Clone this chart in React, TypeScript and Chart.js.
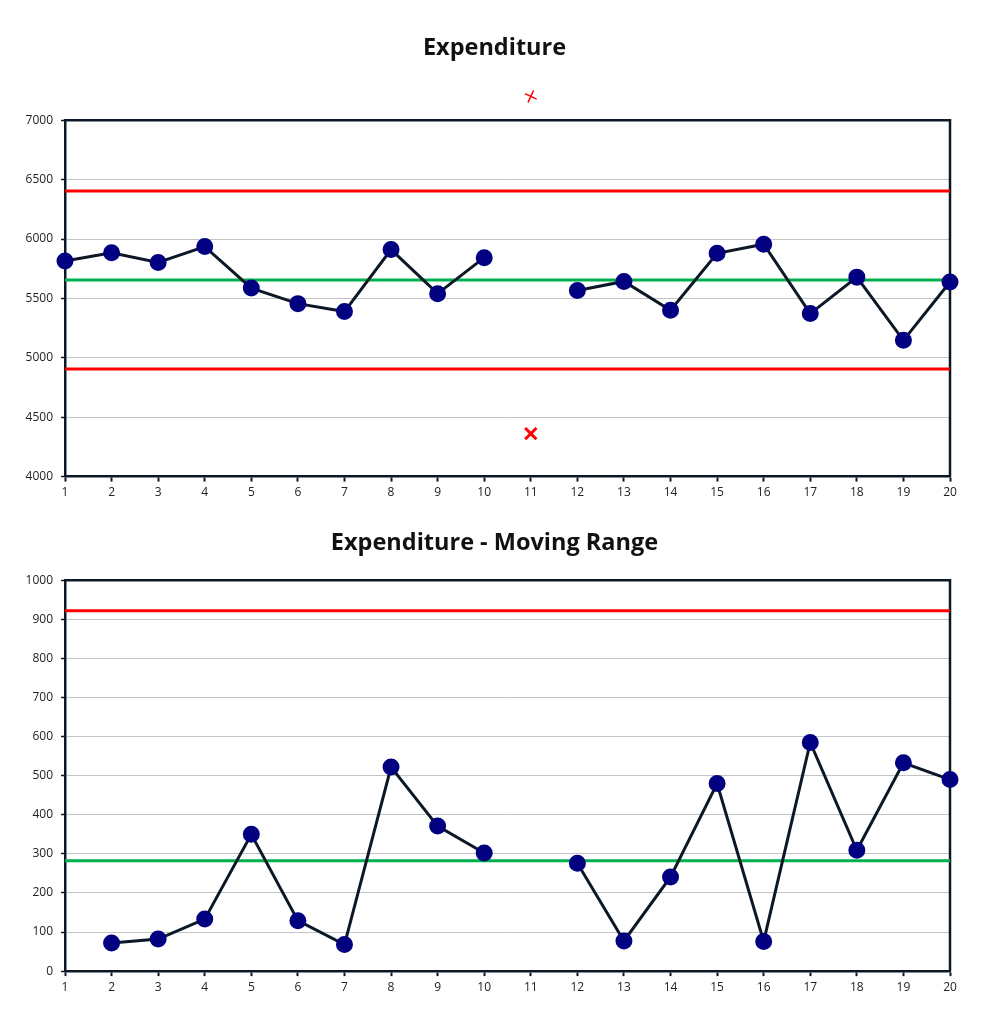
import React, { useEffect, useRef } from "react";
import { Chart, registerables } from "chart.js";

Chart.register(...registerables);

const categories = ["1","2","3","4","5","6","7","8","9","10","11","12","13","14","15","16","17","18","19","20"];

const expenditure: (number | null)[] = [5814, 5885, 5803, 5936, 5587, 5456, 5389, 5911, 5540, 5843, null, 5566, 5643, 5400, 5880, 5956, 5372, 5679, 5147, 5638];
const expenditureUCL = 6405;
const expenditureCL = 5655;
const expenditureLCL = 4905;
const excludedHigh: (number | null)[] = [null, null, null, null, null, null, null, null, null, null, 7200, null, null, null, null, null, null, null, null, null];
const excludedLow: (number | null)[] = [null, null, null, null, null, null, null, null, null, null, 4362, null, null, null, null, null, null, null, null, null];

const movingRange: (number | null)[] = [null, 72, 82, 133, 350, 129, 68, 522, 371, 302, null, 276, 77, 241, 480, 76, 585, 309, 533, 490];
const mrUCL = 922;
const mrCL = 282;

const FONT = "'Open Sans', 'DejaVu Sans', sans-serif";
const DARK = "#0d1826";
const NAVY = "#000080";
const RED = "#ff0000";
const GREEN = "#00b04f";
const GRID = "#c4c4c4";

const frame = {
  id: "frame",
  beforeDatasetsDraw(chart: any) {
    const { ctx, chartArea: a } = chart;
    ctx.save();
    ctx.strokeStyle = DARK;
    ctx.lineWidth = 2.5;
    ctx.beginPath();
    ctx.moveTo(a.left, a.top);
    ctx.lineTo(a.right, a.top);
    ctx.lineTo(a.right, a.bottom);
    ctx.stroke();
    ctx.restore();
  },
};

// Chart.js skips points lying outside the chart area; draw those again with the whole canvas as area.
const outsidePoints = {
  id: "outsidePoints",
  afterDatasetsDraw(chart: any) {
    const { ctx } = chart;
    const full = { left: 0, top: 0, right: chart.width, bottom: chart.height };
    chart.data.datasets.forEach((ds: any, i: number) => {
      if (!ds.drawOutside) return;
      const meta = chart.getDatasetMeta(i);
      meta.data.forEach((pt: any) => {
        if (!pt.skip) pt.draw(ctx, full);
      });
    });
  },
};

const constLine = (v: number, color: string) => ({
  data: categories.map(() => v),
  borderColor: color,
  borderWidth: 3,
  pointRadius: 0,
  clip: false as any,
});

function makeOptions(title: string, padTop: number, padBottom: number, layoutBottom: number, yMin: number, yMax: number, step: number) {
  return {
    responsive: false,
    animation: false as const,
    events: [],
    layout: { padding: { left: 0, right: 0, top: 0, bottom: layoutBottom } },
    plugins: {
      legend: { display: false },
      tooltip: { enabled: false },
      title: {
        display: true,
        text: title,
        color: "#111",
        font: { family: FONT, size: 23.5, weight: "bold" as const },
        padding: { top: padTop, bottom: padBottom },
      },
    },
    scales: {
      x: {
        type: "category" as const,
        offset: false,
        grid: { drawOnChartArea: false, drawTicks: true, tickLength: 5, tickColor: DARK, tickWidth: 2 },
        border: { color: DARK, width: 2.5 },
        ticks: { color: "#222", font: { family: FONT, size: 12 }, padding: 4, maxRotation: 0, autoSkip: false },
      },
      y: {
        type: "linear" as const,
        min: yMin,
        max: yMax,
        afterFit: (s: any) => { s.width = 65; },
        grid: { color: GRID, lineWidth: 1, tickLength: 4, tickColor: DARK, tickWidth: 1.5 },
        border: { color: DARK, width: 2.5 },
        ticks: {
          stepSize: step,
          color: "#222",
          font: { family: FONT, size: 12 },
          padding: 8,
          callback: (v: any) => String(v),
        },
      },
      yRightSpace: {
        type: "linear" as const,
        position: "right" as const,
        display: true,
        afterFit: (s: any) => { s.width = 39; },
        grid: { display: false, drawOnChartArea: false, drawTicks: false },
        border: { display: false },
        ticks: { display: false },
      },
    },
  };
}

function TopChart() {
  const ref = useRef<HTMLCanvasElement>(null);
  useEffect(() => {
    const chart = new Chart(ref.current!, {
      type: "line",
      data: {
        labels: categories,
        datasets: [
          {
            data: expenditure,
            borderColor: DARK,
            borderWidth: 3,
            pointBackgroundColor: NAVY,
            pointBorderColor: NAVY,
            pointRadius: 7,
            spanGaps: false,
            clip: false as any,
          },
          {
            data: excludedHigh,
            showLine: false,
            pointStyle: "cross",
            rotation: 25,
            pointRadius: 6.5,
            borderColor: RED,
            pointBorderWidth: 1.5,
            clip: false as any,
            drawOutside: true,
          } as any,
          {
            data: excludedLow,
            showLine: false,
            pointStyle: "crossRot",
            pointRadius: 8,
            borderColor: RED,
            pointBorderWidth: 3,
            clip: false as any,
          },
          constLine(expenditureCL, GREEN),
          constLine(expenditureUCL, RED),
          constLine(expenditureLCL, RED),
        ],
      },
      options: makeOptions("Expenditure", 34, 58, 1, 4000, 7000, 500) as any,
      plugins: [frame, outsidePoints],
    });
    return () => chart.destroy();
  }, []);
  return <canvas ref={ref} width={989} height={505} style={{ display: "block" }} />;
}

function BottomChart() {
  const ref = useRef<HTMLCanvasElement>(null);
  useEffect(() => {
    const chart = new Chart(ref.current!, {
      type: "line",
      data: {
        labels: categories,
        datasets: [
          {
            data: movingRange,
            borderColor: DARK,
            borderWidth: 3,
            pointBackgroundColor: NAVY,
            pointBorderColor: NAVY,
            pointRadius: 7,
            spanGaps: false,
            clip: false as any,
          },
          constLine(mrCL, GREEN),
          constLine(mrUCL, RED),
        ],
      },
      options: makeOptions("Expenditure - Moving Range", 24, 23, 25.5, 0, 1000, 100) as any,
      plugins: [frame],
    });
    return () => chart.destroy();
  }, []);
  return <canvas ref={ref} width={989} height={519} style={{ display: "block" }} />;
}

export default function App() {
  return (
    <div style={{ position: "absolute", left: 0, top: 0, width: 989, height: 1024, background: "#fff" }}>
      <TopChart />
      <BottomChart />
    </div>
  );
}
